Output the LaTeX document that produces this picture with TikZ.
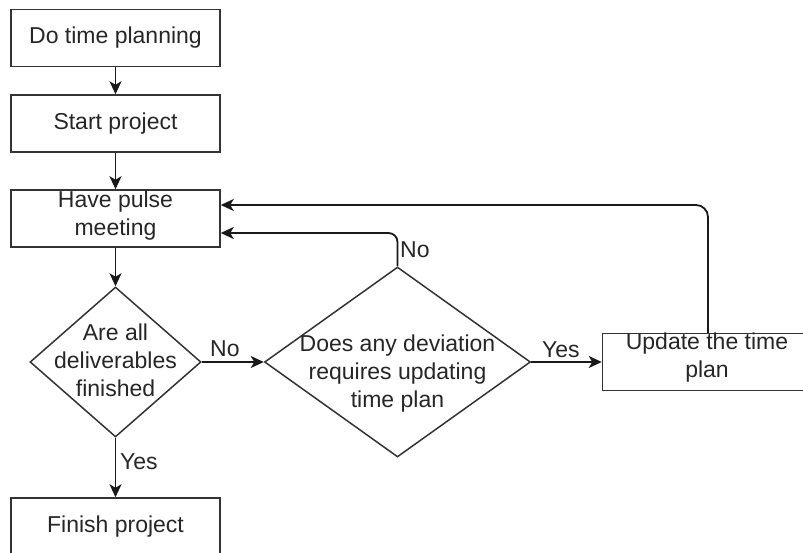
\documentclass[tikz,border=0pt]{standalone}
\usepackage{fontspec}
\setmainfont{Liberation Sans}
\usetikzlibrary{shapes.geometric,arrows.meta}
\begin{document}
\begin{tikzpicture}[x=1pt,y=-1pt,
  every node/.style={font=\fontsize{23}{28}\selectfont, text=black!85},
  procbox/.style={draw=black!80, line width=1.5pt, rectangle, inner sep=0pt, minimum width=209pt, minimum height=57pt},
  decbox/.style={draw=black!80, line width=1.5pt, diamond, inner sep=0pt},
  txt/.style={align=center, inner sep=0pt},
  arr/.style={draw=black!90, line width=1.8pt, -{Stealth[length=13pt,width=12pt,inset=3.5pt]}},
  lbl/.style={inner sep=0pt}]
\useasboundingbox (0,0) rectangle (803,553);
\node[procbox] (b1) at (115.5,38) {Do time planning};
\node[procbox] (b2) at (115.5,123.5) {Start project};
\node[procbox] (b3) at (115.5,218.5) {};
\node[txt] (b3t) at (115.5,215.5) {Have pulse\\meeting};
\node[decbox, minimum width=171pt, minimum height=150pt] (d1) at (115.5,362) {};
\node[txt] (d1t) at (115.5,360) {Are all\\deliverables\\finished};
\node[decbox, minimum width=266pt, minimum height=190pt] (d2) at (397.5,362) {};
\node[txt] (d2t) at (397.5,374) {Does any deviation\\requires updating\\time plan};
\node[procbox] (b4) at (707,362) {};
\node[txt] (b4t) at (707,357.5) {Update the time\\plan};
\node[procbox] (b5) at (115.5,526.5) {Finish project};
\coordinate (b3hi) at ([yshift=13.5pt]b3.east);
\coordinate (b3lo) at ([yshift=-14.5pt]b3.east);
\coordinate (b4up) at ([xshift=1pt]b4.north);
\draw[arr] (b1) -- (b2);
\draw[arr] (b2) -- (b3);
\draw[arr] (b3) -- (d1);
\draw[arr] (d1.east) -- (d2.west);
\draw[arr] (d2.east) -- (b4.west);
\draw[arr] (d1.south) -- (b5.north);
\draw[arr, rounded corners=9pt] (d2.north) |- (b3lo);
\draw[arr, rounded corners=12pt] (b4up) |- (b3hi);
\node[lbl, anchor=west] (l1) at (210,349) {No};
\node[lbl, anchor=west] (l2) at (542,350) {Yes};
\node[lbl, anchor=west] (l3) at (400,250) {No};
\node[lbl, anchor=west] (l4) at (120,462) {Yes};
\end{tikzpicture}
\end{document}
